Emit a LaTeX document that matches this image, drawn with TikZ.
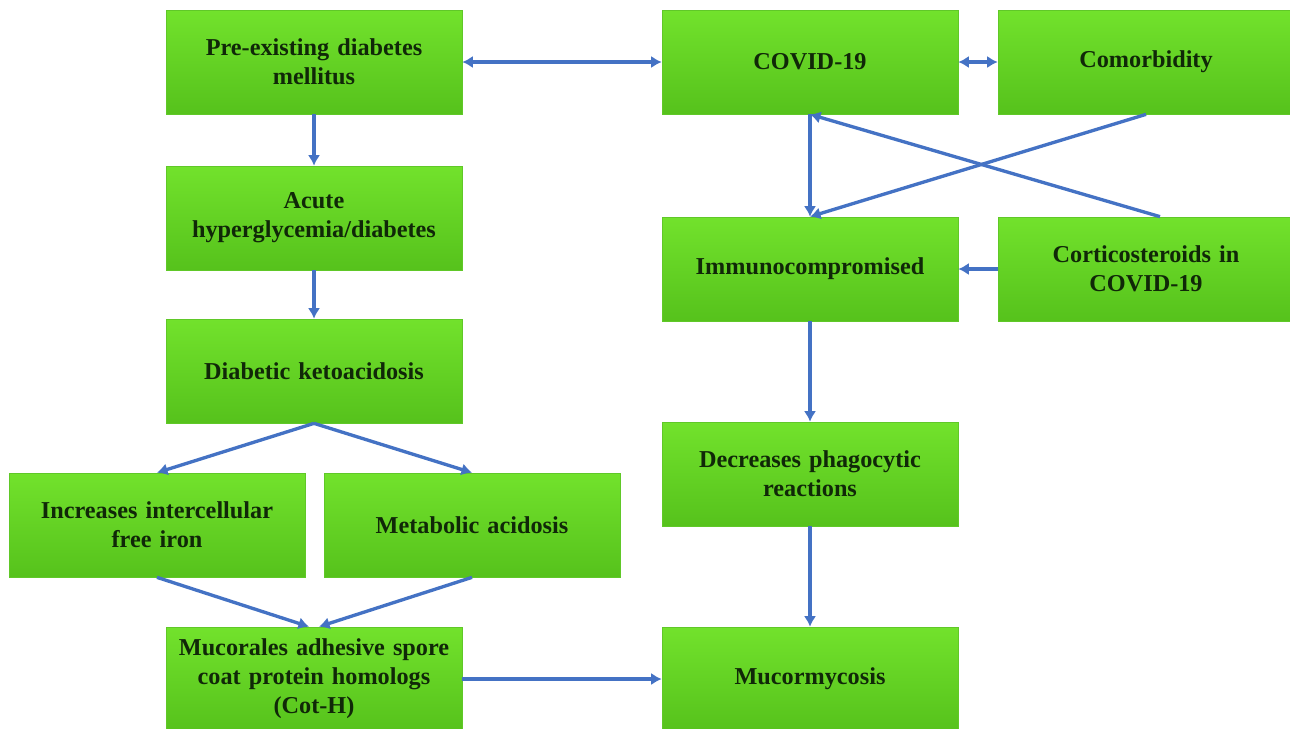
\documentclass[tikz,border=0pt]{standalone}
\usepackage{fontspec}
\setmainfont{Liberation Serif}
\usetikzlibrary{arrows.meta}

\definecolor{boxtop}{RGB}{114,226,44}
\definecolor{boxbottom}{RGB}{86,194,28}
\definecolor{boxedge}{RGB}{96,200,40}
\definecolor{boxtext}{RGB}{16,40,8}
\definecolor{linkblue}{RGB}{68,114,196}

\tikzset{
  box/.style={rectangle, draw=boxedge, top color=boxtop, bottom color=boxbottom,
    minimum width=5.92cm, minimum height=2.08cm, text width=5.6cm, align=center,
    text=boxtext, font=\fontsize{13.8}{16.5}\selectfont\bfseries, inner sep=0pt},
  link/.style={draw=linkblue, line width=1.9pt, -{Latex[length=6pt,width=7pt]}},
  twoway/.style={link, {Latex[length=6pt,width=7pt]}-{Latex[length=6pt,width=7pt]}}
}

\begin{document}
\begin{tikzpicture}[x=0.02cm, y=-0.02cm]
  \useasboundingbox (0, 0) rectangle (1290, 728);
  \fill[white] (0, 0) rectangle (1290, 728);
  % left column
  \node[box] (pre)   at (314, 62)  {Pre-existing diabetes\\mellitus};
  \node[box] (acute) at (314, 218) {Acute\\hyperglycemia/diabetes};
  \node[box] (dka)   at (314, 371) {Diabetic ketoacidosis};
  \node[box] (iron)  at (157, 525) {Increases intercellular\\free iron};
  \node[box] (acid)  at (472, 525) {Metabolic acidosis};
  \node[box] (coth)  at (314, 679) {Mucorales adhesive spore\\coat protein homologs\\(Cot-H)};
  % right column
  \node[box] (covid)  at (810, 62)  {COVID-19};
  \node[box] (comorb) at (1146, 62) {Comorbidity};
  \node[box] (immuno) at (810, 269) {Immunocompromised};
  \node[box] (steroid) at (1146, 269) {Corticosteroids in\\COVID-19};
  \node[box] (phago)  at (810, 474) {Decreases phagocytic\\reactions};
  \node[box] (mucor)  at (810, 679) {Mucormycosis};

  \draw[twoway] (pre.east) -- (covid.west);
  \draw[twoway] (covid.east) -- (comorb.west);
  \draw[link] (pre) -- (acute);
  \draw[link] (acute) -- (dka);
  \draw[link] (dka.south) -- (iron.north);
  \draw[link] (dka.south) -- (acid.north);
  \draw[link] (iron.south) -- ([xshift=-0.1cm]coth.north);
  \draw[link] (acid.south) -- ([xshift=0.1cm]coth.north);
  \draw[link] (coth) -- (mucor);
  \draw[link] (covid) -- (immuno);
  \draw[link] (comorb.south) -- (immuno.north);
  \draw[link] ([xshift=0.28cm]steroid.north) -- (covid.south);
  \draw[link] (steroid) -- (immuno);
  \draw[link] (immuno) -- (phago);
  \draw[link] (phago) -- (mucor);
\end{tikzpicture}
\end{document}
